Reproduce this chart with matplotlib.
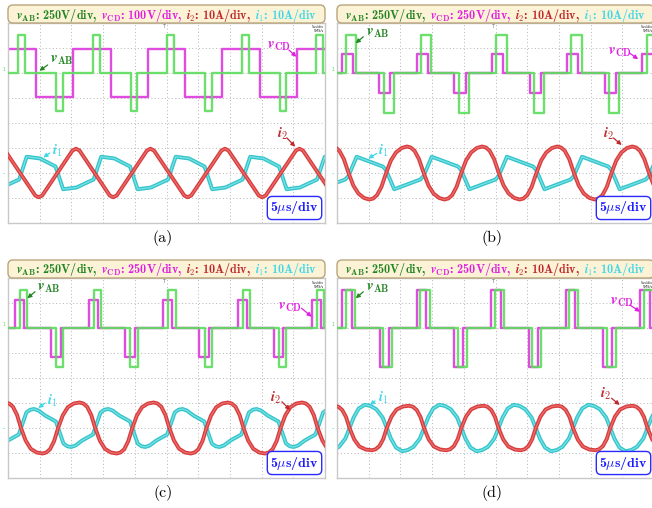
import matplotlib
matplotlib.use('Agg')
import matplotlib.pyplot as plt
from matplotlib.patches import FancyBboxPatch
from matplotlib.transforms import IdentityTransform
import numpy as np

plt.rcParams['mathtext.fontset'] = 'cm'

FIG_W, FIG_H = 652, 508

# scope screen: 10 div x 5 us wide, 8 div tall (voltage zero 2 div below top, current zero 2 div above bottom)
XMAX = 50.0
CAPTIONS = ['(a)', '(b)', '(c)', '(d)']
VAB_SCALE = [250, 250, 250, 250]
VCD_SCALE = [100, 250, 250, 250]
I_SCALE = [10, 10, 10, 10]
PERIOD = [11.75, 11.85, 11.7, 11.75]  # us

# switching edges within one period (us) and the level after each edge (V)
VAB_EDGE_T = [[1.6, 2.7, 7.6, 8.65], [1.42, 3.05, 7.35, 8.97],
              [1.9, 3.04, 7.6, 8.75], [1.37, 2.84, 7.27, 8.74]]
VAB_LEVEL = [[380, 0, -380, 0], [375, 0, -400, 0],
             [385, 0, -390, 0], [380, 0, -390, 0]]
VCD_EDGE_T = [[4.42, 10.3], [0.74, 2.5, 6.68, 8.42],
              [1.1, 2.52, 6.8, 8.3], [0.84, 2.3, 6.74, 8.2]]
VCD_LEVEL = [[-95, 95], [190, 0, -200, 0],
             [285, 0, -285, 0], [380, 0, -390, 0]]

# current vertices over one period (us, A)
I2_T = [[4.3, 4.85, 5.4, 10.17, 10.72, 11.27],
        [5.1, 5.7, 6.3, 7.0, 7.75, 8.5, 9.3, 10.2, 11.025, 11.625, 12.225, 12.925, 13.675, 14.425, 15.225, 16.125],
        [5.43, 6.03, 6.63, 7.28, 7.9, 8.63, 9.43, 10.38, 11.28, 11.88, 12.48, 13.13, 13.75, 14.48, 15.28, 16.23],
        [5.5, 6.1, 6.7, 7.3, 7.85, 8.6, 9.4, 10.4, 11.375, 11.975, 12.575, 13.175, 13.725, 14.475, 15.275, 16.275]]
I2_V = [[-9.0, -9.7, -9.0, 9.0, 9.7, 9.0],
        [-10.6, -10.2, -8.9, -5.6, 0, 5.0, 8.2, 10.0, 10.6, 10.2, 8.9, 5.6, 0, -5.0, -8.2, -10.0],
        [-10.2, -9.8, -8.5, -5.2, 0, 5.0, 8.3, 9.8, 10.2, 9.8, 8.5, 5.2, 0, -5.0, -8.3, -9.8],
        [-8.9, -8.5, -7.2, -4.4, 0, 4.6, 7.4, 8.6, 8.9, 8.5, 7.2, 4.4, 0, -4.6, -7.4, -8.6]]
I1_T = [[1.75, 2.95, 5.05, 7.5, 8.7, 10.8],
        [1.3, 1.8, 3.1, 7.225, 7.725, 9.025],
        [1.7, 2.9, 3.5, 4.1, 4.8, 5.85, 7.55, 8.75, 9.35, 9.95, 10.65, 11.7],
        [4.4, 5.3, 6.2, 7.2, 7.85, 8.5, 9.3, 10.275, 11.175, 12.075, 13.075, 13.725, 14.375, 15.175]]
I1_V = [[-2.6, 6.5, 5.8, 2.6, -6.5, -5.8],
        [-2.6, -1.2, 6.5, 2.6, 1.2, -6.5],
        [-2.6, 6.2, 7.3, 7.6, 7.0, 5.0, 2.6, -6.2, -7.3, -7.6, -7.0, -5.0],
        [9.3, 8.8, 7.5, 4.2, 0, -4.2, -7.8, -9.3, -8.8, -7.5, -4.2, 0, 4.2, 7.8]]

# label anchors (us, div) and arrows (tail, head)
VAB_LABEL_XY = [(6.7, 0.55), (4.5, 1.62), (4.6, 1.62), (4.5, 1.62)]
VAB_ARROW = [((6.26, 0.32), (4.94, 0.09)), ((4.15, 1.45), (2.95, 1.19)),
             ((4.26, 1.45), (3.05, 1.19)), ((4.15, 1.45), (2.95, 1.19))]
VCD_LABEL_XY = [(40.9, 1.1), (42.7, 0.85), (42.6, 0.85), (43.1, 1.05)]
VCD_ARROW = [((44.3, 0.92), (45.5, 0.65)), ((46.2, 0.79), (47.5, 0.55)),
             ((46.3, 0.79), (47.9, 0.45)), ((46.2, 0.92), (47.8, 0.65))]
I1_LABEL_XY = [(6.9, -3.12), (6.5, -3.12), (6.1, -2.93), (6.5, -2.78)]
I1_ARROW = [((6.6, -3.2), (5.57, -3.38)), ((6.26, -3.22), (4.94, -3.42)),
            ((5.84, -3.0), (4.78, -3.2)), ((6.0, -2.92), (5.2, -3.08))]
I2_LABEL_XY = [(42.4, -2.45), (42.0, -2.45), (41.3, -2.78), (41.5, -2.65)]
I2_ARROW = [((44.0, -2.6), (45.3, -2.95)), ((43.6, -2.6), (44.9, -2.88)),
            ((43.2, -2.95), (44.5, -3.28)), ((43.3, -2.81), (44.6, -3.08))]

# panel placement in image pixels (screen left, screen top)
PANEL_LEFT = [8, 337, 8, 337]
PANEL_TOP = [23, 23, 278, 278]
SCREEN_W, SCREEN_H = 317, 200

G_TRACE, M_TRACE, C_TRACE = '#5cdc5c', '#e04ce0', '#48d4d8'
G_TEXT, M_TEXT, R_TEXT, C_TEXT = '#238523', '#e020e0', '#c0282c', '#40d8e8'


def tile(ts, vs, period, lo=-2, hi=7):
    t = np.concatenate([np.asarray(ts, float) + k * period for k in range(lo, hi)])
    v = np.tile(np.asarray(vs, float), hi - lo)
    return t, v


fig = plt.figure(figsize=(FIG_W / 100, FIG_H / 100), dpi=100)
renderer = fig.canvas.get_renderer()


def put_header(left, top, vcd):
    box = FancyBboxPatch((left, FIG_H - top - 18), 317, 18,
                         boxstyle='round,pad=0,rounding_size=5',
                         transform=IdentityTransform(), fc='#fcf2d6',
                         ec='#b8a57c', lw=1.0, zorder=5)
    fig.add_artist(box)
    pieces = [(r'$\mathbfit{v}_{\mathbf{AB}}$: 250V/div,', G_TEXT),
              (r'$\mathbfit{v}_{\mathbf{CD}}$: %dV/div,' % vcd, M_TEXT),
              (r'$\mathbfit{i}_{\mathbf{2}}$: 10A/div,', R_TEXT),
              (r'$\mathbfit{i}_{\mathbf{1}}$: 10A/div', C_TEXT)]
    base = FIG_H - top - 13.5
    size = 9.0
    for rnd in range(2):
        arts, x = [], 0.0
        for s, c in pieces:
            t = fig.text(x, base, s, color=c, fontsize=size, family='cmb10',
                         va='baseline', ha='left', transform=IdentityTransform(),
                         zorder=6)
            bb = t.get_window_extent(renderer)
            arts.append(t)
            x = bb.x1 + size * 0.45
        total = x - size * 0.45
        if rnd == 0:
            for t in arts:
                t.remove()
            size = size * 302 / total
        else:
            shift = left + (317 - total) / 2
            for t in arts:
                px, py = t.get_position()
                t.set_position((px + shift, py))


for p in range(4):
    left, top = PANEL_LEFT[p], PANEL_TOP[p]
    ax = fig.add_axes([left / FIG_W, 1 - (top + SCREEN_H) / FIG_H,
                       SCREEN_W / FIG_W, SCREEN_H / FIG_H])
    ax.set_xlim(0, XMAX)
    ax.set_ylim(-6, 2)
    ax.set_xticks([])
    ax.set_yticks([])
    for s in ax.spines.values():
        s.set_color('#c8c8c8')
        s.set_linewidth(1.0)
    for k in range(1, 10):
        ax.axvline(k * 5, color='#b4b4b4', lw=0.7, ls=(0, (1, 2.5)), zorder=0)
    for k in range(-5, 2):
        ax.axhline(k, color='#b4b4b4', lw=0.7, ls=(0, (1, 2.5)), zorder=0)

    T = PERIOD[p]
    t, v = tile(VCD_EDGE_T[p], VCD_LEVEL[p], T)
    ax.step(t, v / VCD_SCALE[p], where='post', color=M_TRACE, lw=1.7, zorder=2)
    t, v = tile(VAB_EDGE_T[p], VAB_LEVEL[p], T)
    ax.step(t, v / VAB_SCALE[p], where='post', color=G_TRACE, lw=1.7, alpha=0.9, zorder=3)

    t, v = tile(I1_T[p], I1_V[p], T)
    ax.plot(t, v / I_SCALE[p] - 4, color='#34c4ca', lw=2.8, zorder=2, solid_joinstyle='round')
    ax.plot(t, v / I_SCALE[p] - 4, color='#78e2e6', lw=0.9, zorder=2, solid_joinstyle='round')
    t, v = tile(I2_T[p], I2_V[p], T)
    ax.plot(t, v / I_SCALE[p] - 4, color='#d83c3c', lw=2.8, zorder=3, solid_joinstyle='round')
    ax.plot(t, v / I_SCALE[p] - 4, color='#ea6e6e', lw=0.9, zorder=3, solid_joinstyle='round')

    lab = dict(fontsize=10.5, va='center', ha='left', zorder=8)
    ax.text(*VAB_LABEL_XY[p], r'$\mathbfit{v}_{\mathbf{AB}}$', color=G_TEXT, **lab)
    ax.text(*VCD_LABEL_XY[p], r'$\mathbfit{v}_{\mathbf{CD}}$', color=M_TEXT, **lab)
    ax.text(*I1_LABEL_XY[p], r'$\mathbfit{i}_{\mathbf{1}}$', color=C_TEXT, **lab)
    ax.text(*I2_LABEL_XY[p], r'$\mathbfit{i}_{\mathbf{2}}$', color=R_TEXT, **lab)
    for (tail, head), c in [(VAB_ARROW[p], G_TEXT), (VCD_ARROW[p], M_TEXT),
                            (I1_ARROW[p], C_TEXT), (I2_ARROW[p], R_TEXT)]:
        ax.annotate('', xy=head, xytext=tail, zorder=8,
                    arrowprops=dict(arrowstyle='-|>', color=c, lw=0.9,
                                    mutation_scale=6, shrinkA=0, shrinkB=0))

    ax.text(49.0, -5.74, r'5$\mu$s/div', family='cmb10', fontsize=10,
            color='#1a1aff', ha='right', va='bottom', zorder=9,
            bbox=dict(boxstyle='round,pad=0.22,rounding_size=0.35', fc='white',
                      ec='#2a2aff', lw=1.0))
    # small scope marks
    ax.text(-0.6, 0.15, '1', color=G_TRACE, fontsize=3.5, ha='center', va='center', clip_on=False)
    ax.text(-0.6, -4, '-', color=C_TRACE, fontsize=5, ha='center', va='center', clip_on=False)
    ax.text(24.6, 1.85, 'T', color='#707070', fontsize=3.5, ha='center', va='center')
    ax.text(49.8, 1.9, '5us/div\n5MS/s', color='#202020', fontsize=2.4, ha='right',
            va='top', linespacing=1.0)

    put_header(left, top - 18, VCD_SCALE[p])
    fig.text((left + 155) / FIG_W, 1 - (top + 215) / FIG_H, CAPTIONS[p],
             family='cmr10', fontsize=11.5, ha='center', va='center')

fig.savefig('out.png', dpi=100)
